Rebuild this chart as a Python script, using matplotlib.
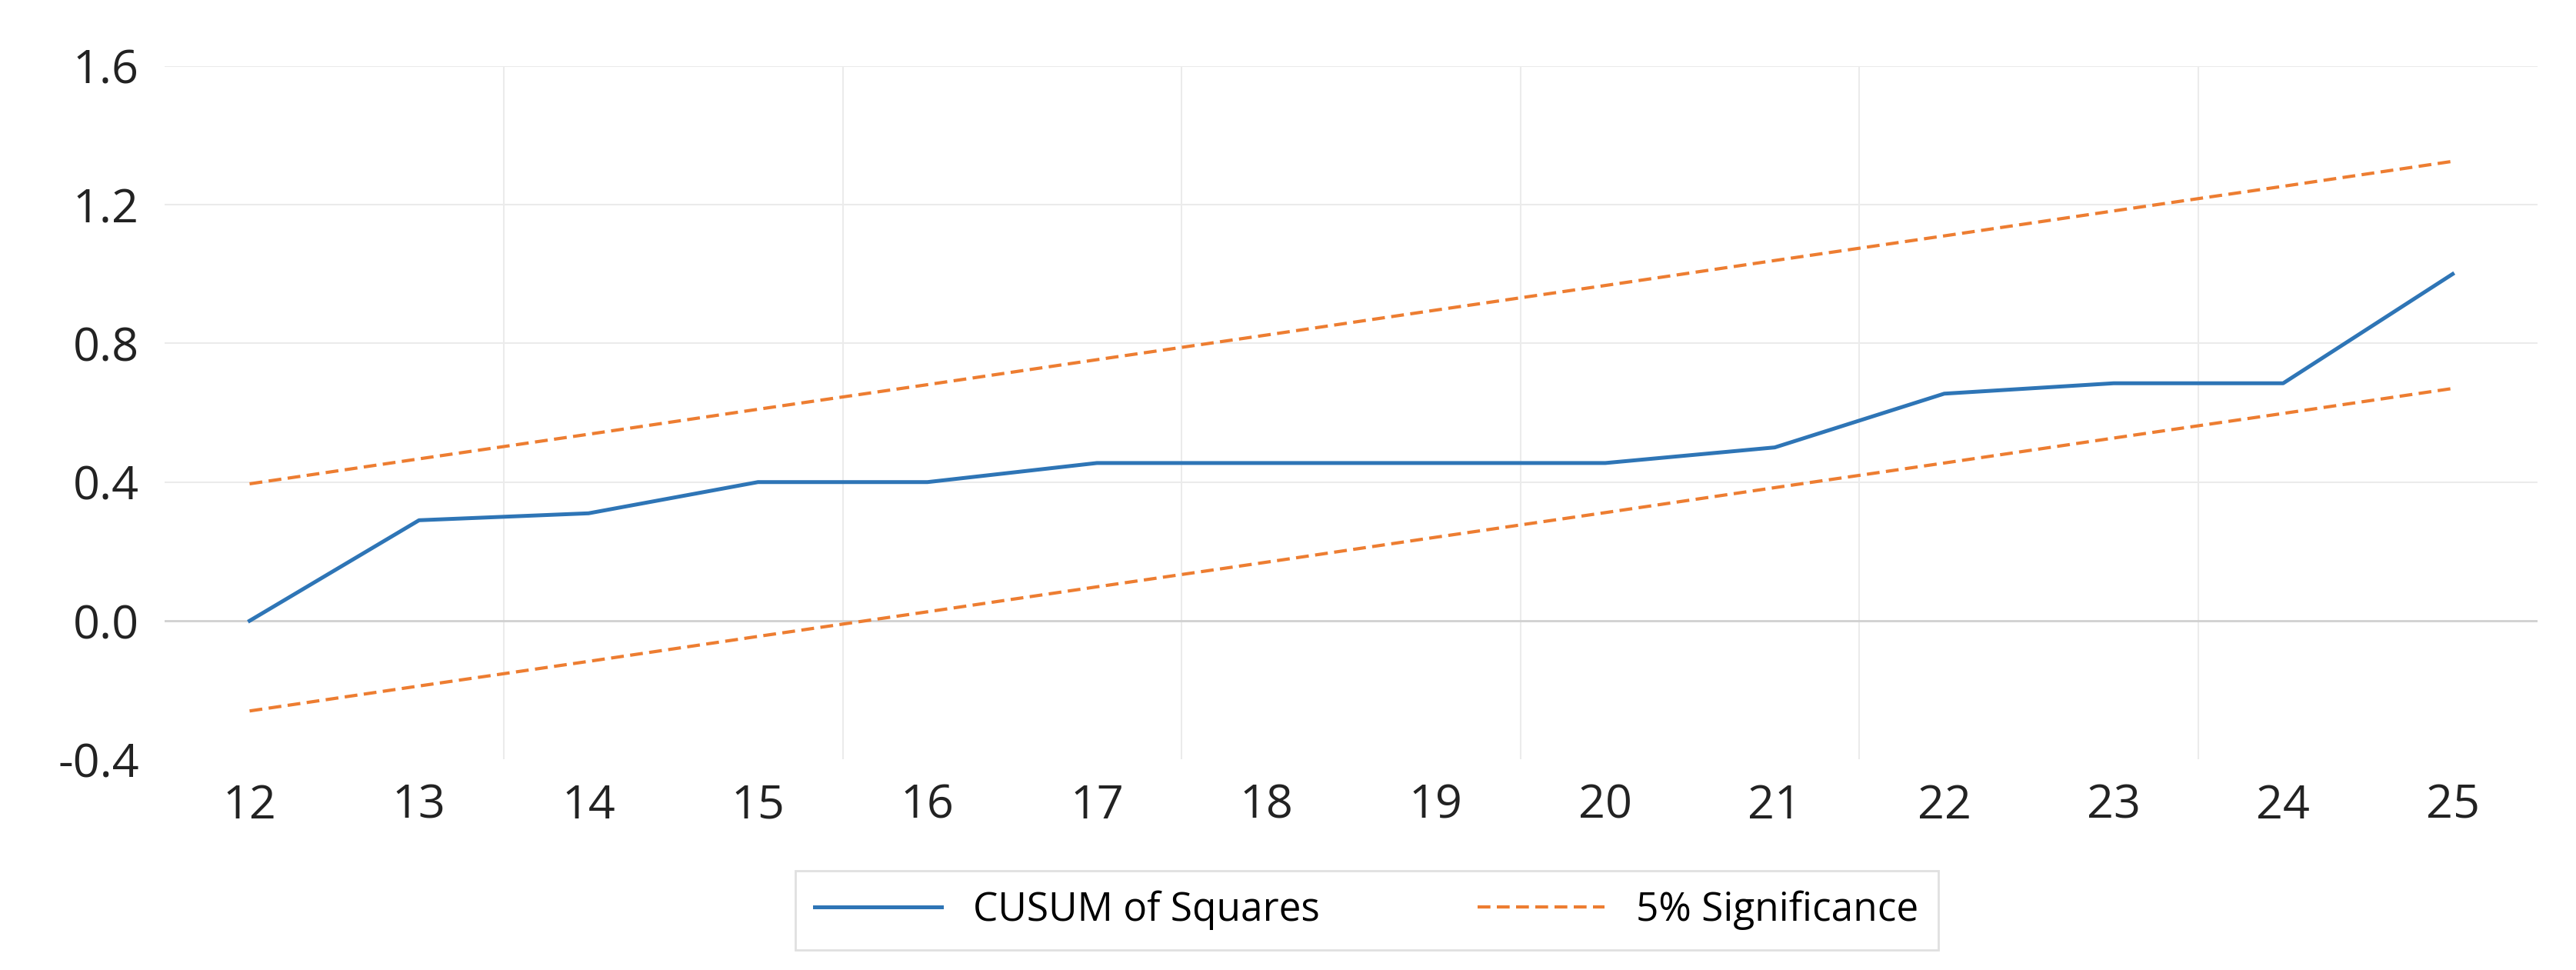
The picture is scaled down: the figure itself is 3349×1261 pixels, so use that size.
import matplotlib
matplotlib.use("Agg")
import matplotlib.pyplot as plt

years = [12, 13, 14, 15, 16, 17, 18, 19, 20, 21, 22, 23, 24, 25]
cusum = [0.0, 0.29, 0.31, 0.40, 0.40, 0.455, 0.455, 0.455, 0.455, 0.50, 0.655, 0.685, 0.685, 1.0]
upper = [0.395, 0.467, 0.538, 0.610, 0.681, 0.753, 0.824, 0.896, 0.967, 1.039, 1.110, 1.182, 1.253, 1.325]
lower = [-0.26, -0.188, -0.117, -0.045, 0.026, 0.098, 0.169, 0.241, 0.312, 0.384, 0.455, 0.527, 0.598, 0.670]
yticks = [-0.4, 0.0, 0.4, 0.8, 1.2, 1.6]

plt.rcParams['font.family'] = ['Open Sans', 'DejaVu Sans']
fig = plt.figure(figsize=(33.49, 12.61), dpi=100)
ax = fig.add_axes([0.064, 0.217, 0.921, 0.715])
ax.plot(years, cusum, color='#2E75B6', lw=3.6, label='CUSUM of Squares', zorder=3)
ax.plot(years, upper, color='#ED7D31', lw=3.0, ls=(0, (4, 2)), label='5% Significance', zorder=3)
ax.plot(years, lower, color='#ED7D31', lw=3.0, ls=(0, (4, 2)), zorder=3)
ax.set_xlim(years[0] - 0.5, years[-1] + 0.5)
ax.set_ylim(-0.4, 1.6)
ax.set_yticks(yticks)
ax.set_yticklabels([f"{v:.1f}" for v in yticks])
ax.set_xticks(years)
for y in yticks[2:]:
    ax.axhline(y, color='#EBEBEB', lw=1.5, zorder=1)
ax.axhline(0, color='#D0D0D0', lw=2, zorder=2)
for b in range(years[0] + 1, years[-1], 2):
    ax.axvline(b + 0.5, color='#EBEBEB', lw=1.5, zorder=1)
for s in ax.spines.values():
    s.set_visible(False)
ax.tick_params(length=0, labelsize=44, pad=22, colors='#222222')
ax.tick_params(axis='y', pad=24)
leg = fig.legend(loc='center', bbox_to_anchor=(0.5305, 0.0615), ncol=2, fontsize=37,
                 frameon=True, fancybox=False, edgecolor='#D9D9D9', handlelength=3.2,
                 columnspacing=4, borderpad=0.5)
leg.get_frame().set_linewidth(2)
fig.savefig('out.png', dpi=100)
